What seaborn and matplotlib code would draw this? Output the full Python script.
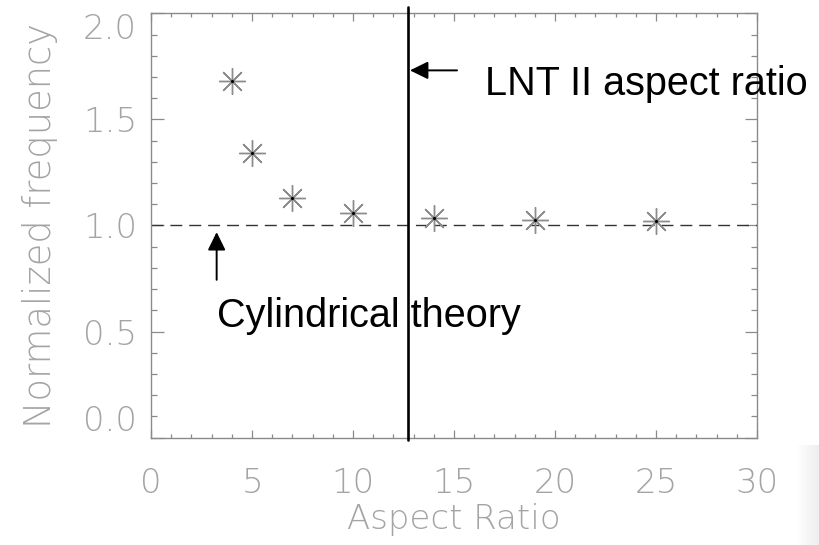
import numpy as np
import matplotlib
matplotlib.use("Agg")
import matplotlib.pyplot as plt
import seaborn as sns
import pandas as pd

# Normalized frequency versus aspect ratio
aspect_ratio = [4, 5, 7, 10, 14, 19, 25]
norm_freq = [1.68, 1.34, 1.13, 1.06, 1.035, 1.024, 1.019]
lnt_ratio = 12.74          # LNT II aspect ratio
cylindrical_value = 1.0    # cylindrical theory limit
x_ticks = [0, 5, 10, 15, 20, 25, 30]
y_ticks = [0.0, 0.5, 1.0, 1.5, 2.0]
x_tick_labels = ["0", "5", "10", "15", "20", "25", "30"]
y_tick_labels = ["0.0", "0.5", "1.0", "1.5", "2.0"]

df = pd.DataFrame({"ratio": aspect_ratio, "freq": norm_freq})

sns.set_style("ticks")
plt.rcParams["font.family"] = ["DejaVu Sans"]

GRAY_TXT = "#a4a4a4"
AX_GRAY = "#8a8a8a"
MARK_GRAY = "#8c8c8c"
label_font = dict(family="DejaVu Sans", size=24.5, weight="light", color=GRAY_TXT)
note_font = dict(family="Liberation Sans", size=28.5, color="black")

fig = plt.figure(figsize=(8.2, 5.45), dpi=100)
ax = fig.add_axes([151 / 820, 1 - 437.7 / 545, (757 - 151) / 820, (437.7 - 13.3) / 545])

# asterisk markers with a small dark centre
sns.lineplot(data=df, x="ratio", y="freq", ax=ax, linestyle="none",
             marker=(8, 2, 0), markersize=19, markeredgewidth=1.0,
             markeredgecolor=MARK_GRAY, color=MARK_GRAY, zorder=4)
sns.scatterplot(data=df, x="ratio", y="freq", ax=ax, s=5, color="black",
                linewidth=0, zorder=5)

# cylindrical theory reference line
ax.axhline(cylindrical_value, color="#333333", lw=1.0, ls=(0, (8.6, 5.0)), zorder=2)

# LNT II aspect ratio marker line
ax.plot([lnt_ratio, lnt_ratio], [-0.011, 2.032], color="black", lw=1.9,
        clip_on=False, zorder=6)

arrow = dict(arrowstyle="-|>,head_length=0.55,head_width=0.27", color="black",
             lw=1.4, shrinkA=0, shrinkB=0, mutation_scale=20)
ax.annotate("", xy=(12.82, 1.731), xytext=(15.15, 1.731), arrowprops=arrow)
ax.annotate("", xy=(3.25, 0.969), xytext=(3.25, 0.744), arrowprops=arrow)

ax.text(16.53, 1.616, "LNT II aspect ratio", va="baseline", ha="left", **note_font)
ax.text(3.26, 0.522, "Cylindrical theory", va="baseline", ha="left", **note_font)

ax.set_xlim(0, 30)
ax.set_ylim(0, 2.0)
ax.set_xticks(x_ticks)
ax.set_xticklabels(x_tick_labels)
ax.set_yticks(y_ticks)
ax.set_yticklabels(y_tick_labels)
ax.set_xticks(np.arange(0, 31, 1), minor=True)
ax.set_yticks(np.arange(0, 2.01, 0.1), minor=True)

for s in ax.spines.values():
    s.set_visible(True)
    s.set_color(AX_GRAY)
    s.set_linewidth(1.0)

ax.tick_params(axis="both", which="both", direction="in", top=True, right=True,
               color=AX_GRAY, width=0.9)
ax.tick_params(axis="x", which="major", length=5.8, pad=21)
ax.tick_params(axis="x", which="minor", length=2.9)
ax.tick_params(axis="y", which="major", length=9.0, pad=10)
ax.tick_params(axis="y", which="minor", length=4.0)

for lab in ax.get_xticklabels() + ax.get_yticklabels():
    lab.set_fontfamily(label_font["family"])
    lab.set_fontsize(label_font["size"])
    lab.set_fontweight(label_font["weight"])
    lab.set_color(GRAY_TXT)
ylabs = ax.get_yticklabels()
ylabs[0].set_va("bottom")
ylabs[-1].set_va("top")

ax.set_xlabel("Aspect Ratio", labelpad=2, **label_font)
ax.set_ylabel("Normalized frequency", labelpad=18,
              **{**label_font, "size": 26.5})

# faint shading in the lower right corner
gax = fig.add_axes([797 / 820, 0, 23 / 820, 100 / 545])
grad = np.linspace(0.0, 1.0, 64)[None, :]
gax.imshow(grad, aspect="auto", cmap=matplotlib.colors.LinearSegmentedColormap.from_list(
    "shade", ["#ffffff", "#ededed"]), vmin=0, vmax=1)
gax.axis("off")

fig.savefig("out.png", dpi=100)
